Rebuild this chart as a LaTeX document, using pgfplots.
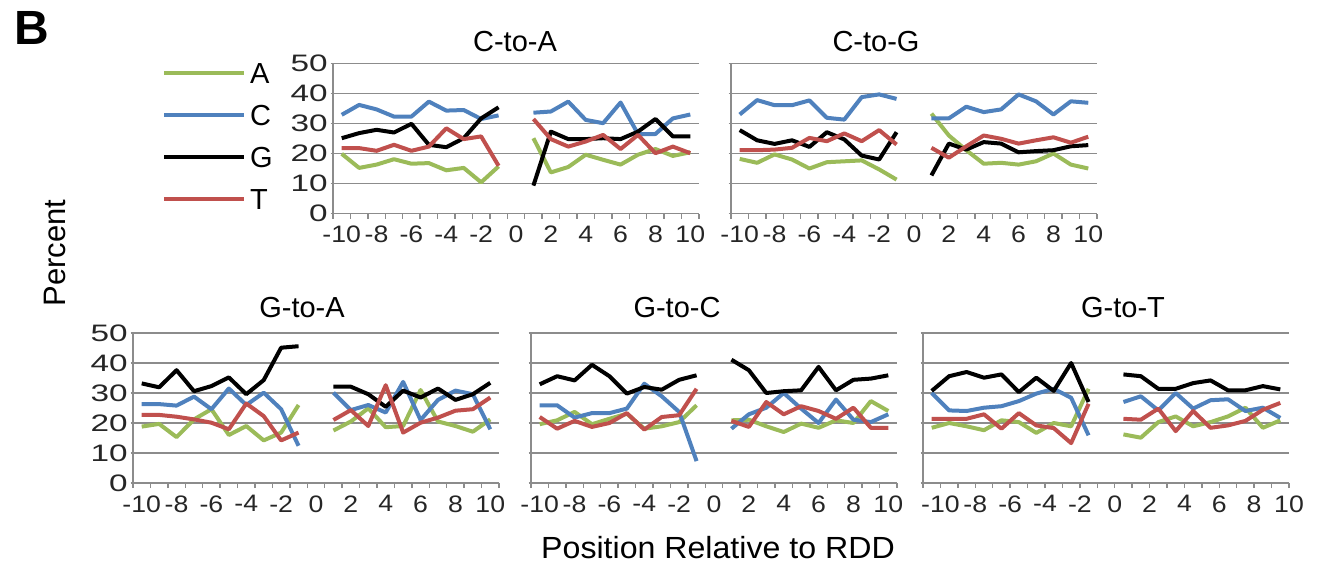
\documentclass[border=0pt]{standalone}
\usepackage{pgfplots}
\pgfplotsset{compat=1.18}
\usepackage{pgfplotstable}
\usepackage{fontspec}
\setmainfont{Liberation Sans}
\definecolor{cA}{HTML}{9BBB59}
\definecolor{cC}{HTML}{4F81BD}
\definecolor{cG}{HTML}{000000}
\definecolor{cT}{HTML}{C0504D}
\definecolor{gridgray}{HTML}{8C8C8C}

\pgfplotstableread{
x A C G T
-10 19.9 32.9 25.1 21.8
-9 15.2 36.2 26.8 21.8
-8 16.3 34.7 27.9 20.9
-7 18.1 32.3 27.0 22.9
-6 16.6 32.3 29.9 20.9
-5 16.8 37.3 22.9 22.3
-4 14.4 34.3 22.1 28.4
-3 15.2 34.5 25.1 24.8
-2 10.4 31.5 31.7 25.7
-1 15.7 32.7 35.4 15.9
0 nan nan nan nan
1 25.1 33.6 9.3 31.5
2 13.7 34.0 27.3 24.8
3 15.5 37.3 24.8 22.3
4 19.6 31.2 24.8 24.0
5 17.9 30.1 25.1 26.2
6 16.3 37.0 24.8 21.5
7 19.6 26.5 27.3 26.2
8 21.5 26.5 31.5 20.1
9 19.2 31.7 25.7 22.3
10 20.4 33.0 25.7 20.1
}\tCA

\pgfplotstableread{
x A C G T
-10 18.2 33.0 27.8 21.1
-9 16.9 37.8 24.4 21.1
-8 19.7 36.1 23.2 21.3
-7 18.0 36.1 24.4 21.9
-6 15.0 37.7 22.2 25.2
-5 17.1 31.9 27.1 24.1
-4 17.4 31.3 24.7 26.7
-3 17.7 38.8 19.3 24.1
-2 14.7 39.7 18.0 27.8
-1 11.3 38.2 27.1 23.0
0 nan nan nan nan
1 33.3 31.7 12.7 21.9
2 26.0 31.7 23.3 18.6
3 21.1 35.6 21.3 22.4
4 16.6 33.8 23.8 26.0
5 16.9 34.7 23.3 24.9
6 16.3 39.7 20.4 23.3
7 17.4 37.4 20.8 24.4
8 20.0 33.0 21.1 25.4
9 16.3 37.4 22.4 23.6
10 15.0 36.9 22.8 25.6
}\tCG

\pgfplotstableread{
x A C G T
-10 18.8 26.3 33.2 22.7
-9 19.7 26.3 31.9 22.7
-8 15.3 25.8 37.6 22.1
-7 21.2 28.8 30.6 21.2
-6 24.6 24.6 32.3 20.1
-5 16.0 31.5 35.2 17.9
-4 19.0 26.0 29.6 26.5
-3 14.2 30.1 34.3 22.3
-2 16.8 24.6 45.1 14.2
-1 26.0 12.4 45.6 16.8
0 nan nan nan nan
1 17.5 30.1 32.1 21.0
2 20.5 24.3 32.1 24.3
3 24.9 26.0 29.6 19.0
4 18.6 23.5 25.4 32.6
5 19.0 33.7 30.8 16.8
6 31.0 21.0 28.5 20.1
7 20.5 27.7 31.5 21.8
8 19.0 30.8 27.7 24.1
9 17.1 29.6 29.6 24.6
10 21.2 17.9 33.4 28.5
}\tGA

\pgfplotstableread{
x A C G T
-10 19.6 25.9 32.9 22.0
-9 20.9 25.9 35.6 18.1
-8 23.7 21.8 34.2 20.7
-7 19.6 23.3 39.4 18.7
-6 21.4 23.3 35.6 20.0
-5 23.1 24.8 29.8 23.3
-4 18.1 33.1 32.0 17.8
-3 18.9 28.9 31.1 22.0
-2 20.3 23.7 34.4 22.6
-1 25.9 7.3 35.9 31.4
0 nan nan nan nan
1 20.9 18.1 41.1 20.7
2 21.1 22.9 37.6 18.7
3 18.9 25.1 30.0 27.0
4 17.0 30.0 30.6 22.9
5 19.8 24.8 30.9 25.6
6 18.4 20.0 38.7 24.0
7 20.9 27.8 30.9 21.4
8 20.0 21.1 34.4 25.1
9 27.3 20.3 34.8 18.4
10 24.0 22.9 35.9 18.4
}\tGC

\pgfplotstableread{
x A C G T
-10 18.4 30.0 30.7 21.4
-9 20.0 24.2 35.6 21.4
-8 18.9 24.0 37.0 21.4
-7 17.6 25.1 35.1 22.9
-6 20.9 25.6 36.2 18.1
-5 20.3 27.3 30.3 23.3
-4 16.7 29.8 35.1 19.2
-3 20.0 31.4 30.7 18.3
-2 18.9 28.4 40.0 13.3
-1 31.4 15.9 27.0 26.4
0 nan nan nan nan
1 16.2 27.0 36.2 21.4
2 15.1 28.9 35.6 21.1
3 20.3 24.2 31.4 24.8
4 22.2 30.0 31.4 17.3
5 18.9 24.8 33.3 24.0
6 20.3 27.6 34.2 18.4
7 22.2 27.9 30.9 19.2
8 25.1 24.0 30.9 20.7
9 18.4 25.1 32.3 24.4
10 20.9 21.7 31.2 26.7
}\tGT

\pgfplotsset{
  panel/.style={
    width=183pt, height=75pt, scale only axis,
    xmin=-10.5, xmax=10.5, ymin=0, ymax=50,
    axis x line*=bottom, axis y line*=left,
    axis line style={draw=gridgray, line width=0.75pt},
    ytick={0,10,...,50},
    yticklabels={0,10,20,30,40,50},
    ymajorgrids,
    major grid style={draw=gridgray, line width=0.75pt},
    xtick={-10,-8,...,10},
    xticklabels={-10,-8,-6,-4,-2,0,2,4,6,8,10},
    minor xtick={-10.5,-9.5,...,10.5},
    tick align=outside,
    major tick length=1.2pt,
    minor tick length=2.6pt,
    major x tick style={draw=none},
    minor x tick style={draw=gridgray, line width=0.75pt},
    major y tick style={draw=gridgray, line width=0.75pt},
    tick label style={font=\fontsize{11.9}{12}\selectfont, text=black!85},
    xticklabel style={yshift=-1.5pt, xscale=1.12},
    yticklabel style={xshift=3.5pt, xscale=1.4},
    unbounded coords=jump,
    every axis plot/.append style={line width=2pt, line join=round, no markers},
    clip=false,
  },
  noylab/.style={yticklabels={}},
}

\begin{document}
\begin{tikzpicture}
\useasboundingbox (0,0) rectangle (659pt,282pt);

% C-to-A
\begin{axis}[panel, at={(166.5pt,175.25pt)}, anchor=south west,
  legend style={at={(-0.468,1.005)}, anchor=north west, draw=none, fill=none,
    inner sep=0pt, font=\fontsize{14.5}{14}\selectfont, row sep=11pt,
    nodes={inner xsep=2pt, inner ysep=0pt, text height=10pt, text depth=0pt}},
  legend cell align=left,
  legend image code/.code={\draw[#1, line width=2pt] (0pt,0pt) -- (40pt,0pt);},
]
\addplot[cA] table[x=x,y=A] {\tCA};
\addplot[cC] table[x=x,y=C] {\tCA};
\addplot[cG] table[x=x,y=G] {\tCA};
\addplot[cT] table[x=x,y=T] {\tCA};
\legend{A,C,G,T}
\end{axis}

% C-to-G
\begin{axis}[panel, noylab, at={(365.5pt,175.25pt)}, anchor=south west]
\addplot[cA] table[x=x,y=A] {\tCG};
\addplot[cC] table[x=x,y=C] {\tCG};
\addplot[cG] table[x=x,y=G] {\tCG};
\addplot[cT] table[x=x,y=T] {\tCG};
\end{axis}

% G-to-A
\begin{axis}[panel, at={(66.5pt,40.5pt)}, anchor=south west]
\addplot[cA] table[x=x,y=A] {\tGA};
\addplot[cC] table[x=x,y=C] {\tGA};
\addplot[cG] table[x=x,y=G] {\tGA};
\addplot[cT] table[x=x,y=T] {\tGA};
\end{axis}

% G-to-C
\begin{axis}[panel, noylab, at={(265.5pt,40.5pt)}, anchor=south west]
\addplot[cA] table[x=x,y=A] {\tGC};
\addplot[cC] table[x=x,y=C] {\tGC};
\addplot[cG] table[x=x,y=G] {\tGC};
\addplot[cT] table[x=x,y=T] {\tGC};
\end{axis}

% G-to-T
\begin{axis}[panel, noylab, at={(461.5pt,40.5pt)}, anchor=south west,
  xtick={-9.5,-7.5,...,10.5}]
\addplot[cA] table[x=x,y=A] {\tGT};
\addplot[cC] table[x=x,y=C] {\tGT};
\addplot[cG] table[x=x,y=G] {\tGT};
\addplot[cT] table[x=x,y=T] {\tGT};
\end{axis}

\node[anchor=base west, font=\bfseries\fontsize{24}{24}\selectfont] at (3.5pt,259.5pt) {B};
\node[anchor=base, rotate=90, font=\fontsize{15.5}{15}\selectfont] at (32.5pt,155.5pt) {Percent};
\begin{scope}[every node/.style={anchor=base, font=\fontsize{14.5}{15}\selectfont}]
\node at (257.5pt,256.5pt) {C-to-A};
\node at (438pt,256.5pt) {C-to-G};
\node at (151pt,123.5pt) {G-to-A};
\node at (338.5pt,123.5pt) {G-to-C};
\node at (561.5pt,123.5pt) {G-to-T};
\node[xscale=1.05, font=\fontsize{15.3}{15}\selectfont] at (359pt,3pt) {Position Relative to RDD};
\end{scope}
\end{tikzpicture}
\end{document}
